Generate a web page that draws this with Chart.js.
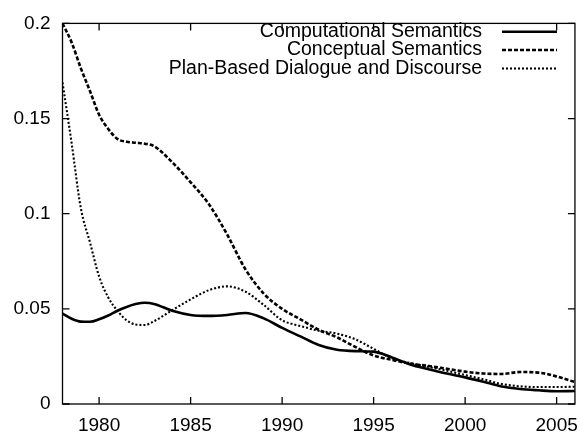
<!DOCTYPE html>
<html><head><meta charset="utf-8">
<script src="https://cdn.jsdelivr.net/npm/chart.js@4/dist/chart.umd.min.js"></script>
<style>html,body{margin:0;padding:0;background:#fff}</style>
</head><body>
<canvas id="c" width="588" height="436"></canvas>
<script>
const years = [1978,1978.5,1979,1979.5,1980,1980.5,1981,1981.5,1982,1982.5,1983,1984,1985,1986,1987,1988,1989,1990,1991,1992,1993,1994,1995,1996,1997,1998,1999,2000,2001,2002,2003,2004,2005,2006];
const computational = [0.0475,0.0448,0.0433,0.0432,0.0445,0.0465,0.049,0.051,0.0525,0.0532,0.0526,0.049,0.0468,0.0463,0.0468,0.0478,0.045,0.040,0.0355,0.031,0.0285,0.0278,0.0275,0.0245,0.0208,0.0183,0.016,0.014,0.0117,0.0092,0.0079,0.0072,0.0067,0.0068];
const conceptual = [0.200,0.190,0.1765,0.1645,0.152,0.1445,0.1393,0.1378,0.1373,0.1368,0.1355,0.127,0.1165,0.105,0.089,0.0707,0.058,0.050,0.0445,0.039,0.035,0.030,0.0255,0.0232,0.0212,0.020,0.0185,0.017,0.016,0.0158,0.0168,0.0165,0.0145,0.0115];
const planBased = [0.169,0.137,0.103,0.085,0.067,0.056,0.049,0.044,0.0418,0.0415,0.0435,0.0493,0.055,0.0598,0.0618,0.059,0.052,0.044,0.041,0.0385,0.037,0.034,0.029,0.024,0.0215,0.0195,0.0175,0.0152,0.013,0.0105,0.0093,0.0089,0.0089,0.0091];
const seriesNames = ["Computational Semantics","Conceptual Semantics","Plan-Based Dialogue and Discourse"];
const xTicks = [1980,1985,1990,1995,2000,2005];
const yTicks = [0,0.05,0.1,0.15,0.2];

const styles = [
  {width:2.6, dash:[]},
  {width:2.6, dash:[4,2]},
  {width:2.1, dash:[2,2]}
];
const FONT = '"Liberation Sans", Arial, Helvetica, sans-serif';
const seriesValues = [computational, conceptual, planBased];

const datasets = seriesValues.map((vals,i)=>({
  label: seriesNames[i],
  data: years.map((y,k)=>({x:y, y:vals[k]})),
  borderColor:'#000',
  borderWidth: styles[i].width,
  borderDash: styles[i].dash,
  pointRadius:0,
  fill:false,
  cubicInterpolationMode:'monotone'
}));

const framePlugin = {
  id:'frame',
  afterDatasetsDraw(chart){
    const {ctx, chartArea:a, scales:{x,y}} = chart;
    ctx.save();
    ctx.strokeStyle='#000';
    ctx.lineWidth=1.3;
    ctx.setLineDash([]);
    ctx.strokeRect(a.left, a.top, a.right-a.left, a.bottom-a.top);
    const L=7;
    ctx.beginPath();
    xTicks.forEach(v=>{
      const px = x.getPixelForValue(v);
      ctx.moveTo(px,a.bottom); ctx.lineTo(px,a.bottom-L);
      ctx.moveTo(px,a.top); ctx.lineTo(px,a.top+L);
    });
    yTicks.forEach(v=>{
      const py = y.getPixelForValue(v);
      ctx.moveTo(a.left,py); ctx.lineTo(a.left+L,py);
      ctx.moveTo(a.right,py); ctx.lineTo(a.right-L,py);
    });
    ctx.stroke();
    // legend
    ctx.font = '19.5px ' + FONT;
    ctx.fillStyle='#000';
    ctx.textAlign='right';
    ctx.textBaseline='middle';
    const rows=[31.7,50,68.5];
    seriesNames.forEach((n,i)=>{
      ctx.fillText(n, 482, rows[i]);
      ctx.beginPath();
      ctx.lineWidth = styles[i].width;
      ctx.setLineDash(styles[i].dash);
      ctx.moveTo(502, rows[i]); ctx.lineTo(557, rows[i]);
      ctx.stroke();
    });
    ctx.restore();
  }
};

new Chart(document.getElementById('c'), {
  type:'line',
  data:{datasets},
  options:{
    responsive:false,
    animation:false,
    events:[],
    layout:{padding:{left:0,right:6.5,top:15.7,bottom:0}},
    plugins:{legend:{display:false},tooltip:{enabled:false}},
    scales:{
      x:{
        type:'linear', min:1978, max:2006,
        grid:{display:false, drawTicks:false},
        border:{display:false},
        afterBuildTicks(s){ s.ticks = xTicks.map(v=>({value:v})); },
        afterFit(s){ s.height = 32; },
        ticks:{color:'#000', font:{family:FONT, size:19}, padding:10, maxRotation:0, autoSkip:false, callback:v=>String(v)}
      },
      y:{
        type:'linear', min:0, max:0.2,
        grid:{display:false, drawTicks:false},
        border:{display:false},
        afterBuildTicks(s){ s.ticks = yTicks.map(v=>({value:v})); },
        afterFit(s){ s.width = 62.5; },
        ticks:{color:'#000', font:{family:FONT, size:19}, padding:12, autoSkip:false, callback:v=>String(v)}
      }
    }
  },
  plugins:[framePlugin]
});
</script>
</body></html>
